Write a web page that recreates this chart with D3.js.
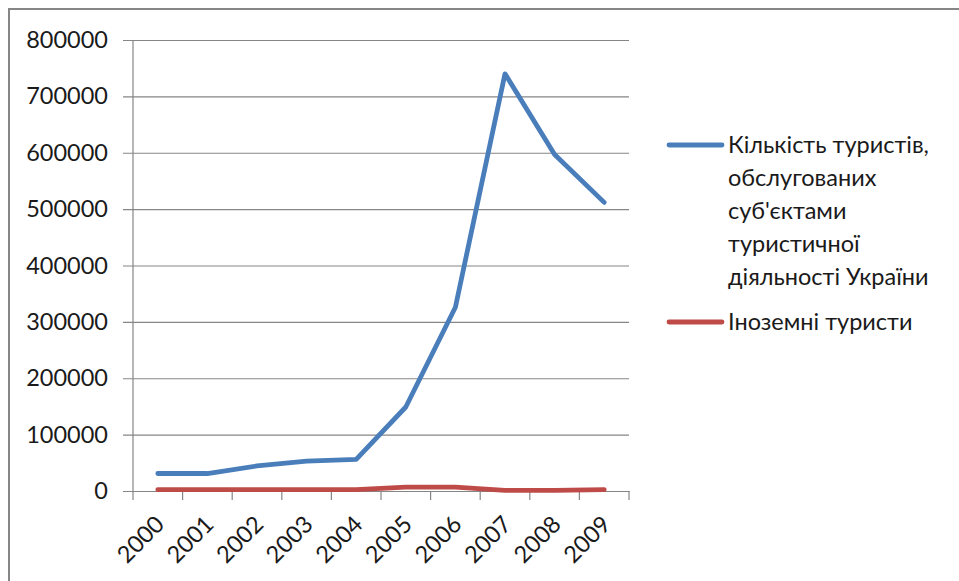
<!DOCTYPE html>
<html><head><meta charset="utf-8">
<script src="https://cdn.jsdelivr.net/npm/d3@7"></script>
<style>body{margin:0;background:#fff}svg{display:block}</style>
</head><body>
<svg id="c" width="959" height="581"></svg>
<script>
const years = ["2000","2001","2002","2003","2004","2005","2006","2007","2008","2009"];
const touristsServed = [31000, 31000, 44500, 53000, 56000, 149000, 326000, 740000, 597000, 512000];
const foreignTourists = [2400, 2400, 2400, 2400, 2400, 7000, 7000, 1100, 1000, 2400];
const yTicks = [0,100000,200000,300000,400000,500000,600000,700000,800000];
const seriesNames = [["Кількість туристів,","обслугованих","суб'єктами","туристичної","діяльності України"],["Іноземні туристи"]];
const colors = ["#4A7EBB","#BE4B48"];

const svg = d3.select("#c");
const font = "Lato, 'Open Sans', sans-serif";
svg.append("rect").attr("x",9).attr("y",9).attr("width",980).attr("height",600)
  .attr("fill","#fff").attr("stroke","#868686").attr("stroke-width",2);

const L=133, R=629, T=40, B=491;
const x = d3.scaleBand().domain(years).range([L,R]);
const y = d3.scaleLinear().domain([0,800000]).range([B,T]);

// gridlines + y labels
const yAxis = d3.axisLeft(y).tickValues(yTicks).tickSize(-(R-L)).tickSizeOuter(0).tickPadding(25).tickFormat(d3.format("d"));
const gy = svg.append("g").attr("transform",`translate(${L},0)`).call(yAxis);
gy.select(".domain").remove();
gy.selectAll(".tick line").attr("x1",-10).attr("stroke","#868686").attr("stroke-width",1.2);
gy.selectAll(".tick text").attr("font-family",font).attr("font-size",23.5).attr("fill","#1a1a1a");

// y axis line
svg.append("line").attr("x1",L).attr("x2",L).attr("y1",T).attr("y2",B).attr("stroke","#868686").attr("stroke-width",1.2);

// x axis
const xAxis = d3.axisBottom(x).tickSizeOuter(0).tickSize(0);
const gx = svg.append("g").attr("transform",`translate(0,${B})`).call(xAxis);
gx.select(".domain").attr("stroke","#868686").attr("stroke-width",1.2);
gx.selectAll(".tick text").attr("font-family",font).attr("font-size",23.5).attr("fill","#1a1a1a")
  .attr("text-anchor","end").attr("transform","translate(2,29) rotate(-45)").attr("dy","0.35em").attr("y",0);
// category boundary ticks
const bounds = years.map(d=>x(d)).concat([R]);
svg.append("g").selectAll("line").data(bounds).join("line")
  .attr("x1",d=>d).attr("x2",d=>d).attr("y1",B).attr("y2",B+9).attr("stroke","#868686").attr("stroke-width",1.2);

const cx = d => x(d)+x.bandwidth()/2;
const line = d3.line().x((d,i)=>cx(years[i])).y(d=>y(d));
[touristsServed, foreignTourists].forEach((s,k)=>{
  svg.append("path").datum(s).attr("d",line).attr("fill","none").attr("stroke",colors[k])
    .attr("stroke-width",4.8).attr("stroke-linejoin","round").attr("stroke-linecap","round");
});

// legend
const lg = svg.append("g");
const legendY = [145, 322];
seriesNames.forEach((lines,k)=>{
  lg.append("line").attr("x1",669).attr("x2",722).attr("y1",legendY[k]).attr("y2",legendY[k])
    .attr("stroke",colors[k]).attr("stroke-width",4.8).attr("stroke-linecap","round");
  const t = lg.append("text").attr("x",728).attr("y",legendY[k])
    .attr("font-family",font).attr("font-size",23.5).attr("fill","#1a1a1a");
  lines.forEach((ln,i)=>t.append("tspan").attr("x",728).attr("dy", i===0?"0.35em":33).text(ln));
});
</script>
</body></html>
